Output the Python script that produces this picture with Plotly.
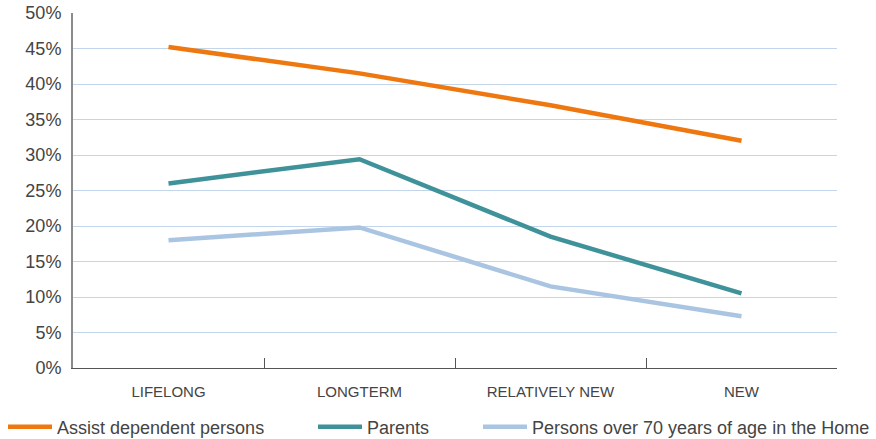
import plotly.graph_objects as go

categories = ["LIFELONG", "LONGTERM", "RELATIVELY NEW", "NEW"]
assist_dependent = [45.2, 41.5, 37.0, 32.0]
parents = [26.0, 29.4, 18.5, 10.5]
persons_over_70 = [18.0, 19.8, 11.5, 7.3]
y_ticks = [0, 5, 10, 15, 20, 25, 30, 35, 40, 45, 50]

series = [
    ("Assist dependent persons", assist_dependent, "#EE7710", "legend"),
    ("Parents", parents, "#3F9299", "legend2"),
    ("Persons over 70 years of age in the Home", persons_over_70, "#A9C5E1", "legend3"),
]

fig = go.Figure()
for name, vals, color, lg in series:
    fig.add_trace(go.Scatter(x=categories, y=vals, mode="lines", name=name,
                             line=dict(color=color, width=4.5), legend=lg))

font = dict(family="Liberation Sans, Arial, sans-serif", color="#444444")
leg_common = dict(orientation="h", xref="container", yref="container",
                  xanchor="left", y=0.027, yanchor="middle",
                  font=dict(size=18, **font), itemwidth=44,
                  bgcolor="rgba(0,0,0,0)")
fig.update_layout(
    width=876, height=439,
    margin=dict(l=73, r=39, t=13, b=71),
    paper_bgcolor="white", plot_bgcolor="white",
    font=font,
    showlegend=True,
    legend=dict(x=3 / 876, **leg_common),
    legend2=dict(x=313 / 876, **leg_common),
    legend3=dict(x=478 / 876, **leg_common),
)
fig.update_xaxes(
    type="category", range=[-0.5, 3.5], automargin=False,
    showline=True, linecolor="#555555", linewidth=1,
    tickson="boundaries", ticks="inside", ticklen=10, tickcolor="#555555",
    showgrid=False, tickfont=dict(size=15, **font), ticklabelstandoff=10,
)
fig.update_yaxes(
    range=[0, 50], tickvals=y_ticks, ticktext=[f"{v}%" for v in y_ticks],
    automargin=False,
    showline=True, linecolor="#8a8a8a", linewidth=2,
    showgrid=True, gridcolor="#C3D5EA", gridwidth=1,
    zeroline=False, ticks="", tickfont=dict(size=18, **font), ticklabelstandoff=6,
)
fig.write_html("out.html", config={"displayModeBar": False},
               post_script="document.body.style.margin='0px';document.body.style.overflow='hidden';")
